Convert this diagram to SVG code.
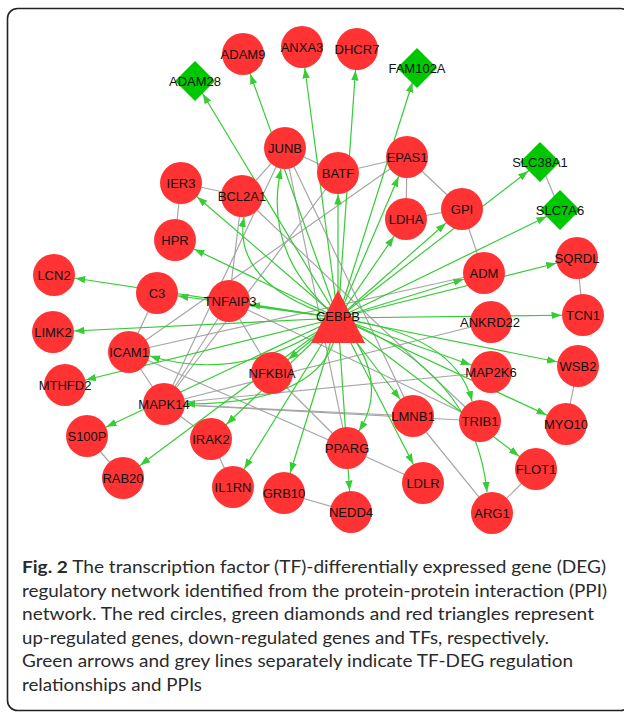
<svg xmlns="http://www.w3.org/2000/svg" width="624" height="713" viewBox="0 0 624 713">
<style>
.g{stroke:#35cc35;stroke-width:1.2;fill:none}
.p{stroke:#a6a6a6;stroke-width:1.2;fill:none}
.c{fill:#ff3333}
.d{fill:#00c800}
.t{font-family:"Liberation Sans",Arial,sans-serif;font-size:13px;fill:#111;text-anchor:middle}
.cap{font-family:Lato,"Open Sans",sans-serif;font-size:17.5px;fill:#2a2a2a}
</style>
<defs>
<marker id="ac" viewBox="0 0 40 10" markerWidth="40" markerHeight="10" refX="31.5" refY="5" orient="auto" markerUnits="userSpaceOnUse"><path d="M0,1.3 L10,5 L0,8.7 z" fill="#35cc35"/></marker>
<marker id="ad" viewBox="0 0 40 10" markerWidth="40" markerHeight="10" refX="25" refY="5" orient="auto" markerUnits="userSpaceOnUse"><path d="M0,1.3 L10,5 L0,8.7 z" fill="#35cc35"/></marker>
<marker id="at" viewBox="0 0 12 10" markerWidth="12" markerHeight="10" refX="10" refY="5" orient="auto" markerUnits="userSpaceOnUse"><path d="M0,1.3 L10,5 L0,8.7 z" fill="#35cc35"/></marker>
</defs>
<rect x="7.5" y="8.5" width="623" height="702" rx="10" fill="none" stroke="#222" stroke-width="1.6"/>
<g id="connectors">
<g id="ppi">
<line class="p" x1="181" y1="183" x2="242" y2="196"/>
<line class="p" x1="181" y1="183" x2="175" y2="240"/>
<line class="p" x1="242" y1="196" x2="285" y2="148"/>
<line class="p" x1="285" y1="148" x2="338" y2="173"/>
<line class="p" x1="338" y1="173" x2="407" y2="157"/>
<line class="p" x1="407" y1="157" x2="406" y2="219"/>
<line class="p" x1="407" y1="157" x2="462" y2="209"/>
<line class="p" x1="406" y1="219" x2="462" y2="209"/>
<line class="p" x1="462" y1="209" x2="484" y2="273"/>
<line class="p" x1="540" y1="162" x2="560" y2="210"/>
<line class="p" x1="577" y1="258" x2="583" y2="315"/>
<line class="p" x1="578" y1="366" x2="566" y2="424"/>
<line class="p" x1="536" y1="469" x2="492" y2="513"/>
<line class="p" x1="413" y1="416" x2="492" y2="513"/>
<line class="p" x1="347" y1="448" x2="423" y2="483"/>
<line class="p" x1="284" y1="493" x2="351" y2="512"/>
<line class="p" x1="211" y1="439" x2="233" y2="487"/>
<line class="p" x1="87" y1="436" x2="123" y2="478"/>
<line class="p" x1="129" y1="352" x2="164" y2="404"/>
<line class="p" x1="157" y1="293" x2="129" y2="352"/>
<line class="p" x1="164" y1="404" x2="211" y2="439"/>
<line class="p" x1="229" y1="301" x2="272" y2="373"/>
<line class="p" x1="164" y1="404" x2="491" y2="372"/>
<line class="p" x1="164" y1="404" x2="480" y2="421"/>
<line class="p" x1="164" y1="404" x2="413" y2="416"/>
<line class="p" x1="129" y1="352" x2="347" y2="448"/>
<line class="p" x1="242" y1="196" x2="229" y2="301"/>
<line class="p" x1="242" y1="196" x2="480" y2="421"/>
<line class="p" x1="285" y1="148" x2="413" y2="416"/>
<line class="p" x1="285" y1="148" x2="347" y2="448"/>
<line class="p" x1="407" y1="157" x2="129" y2="352"/>
<line class="p" x1="338" y1="173" x2="164" y2="404"/>
<line class="p" x1="491" y1="322" x2="164" y2="404"/>
<line class="p" x1="129" y1="352" x2="484" y2="273"/>
<line class="p" x1="229" y1="301" x2="164" y2="404"/>
<line class="p" x1="285" y1="148" x2="164" y2="404"/>
<line class="p" x1="272" y1="373" x2="347" y2="448"/>
<line class="p" x1="229" y1="301" x2="480" y2="421"/>
</g>
<g id="regulation">
<line class="g" x1="338" y1="318" x2="195" y2="81" marker-end="url(#ad)"/>
<line class="g" x1="338" y1="318" x2="243" y2="54" marker-end="url(#ac)"/>
<line class="g" x1="338" y1="318" x2="302" y2="47" marker-end="url(#ac)"/>
<line class="g" x1="338" y1="318" x2="357" y2="49" marker-end="url(#ac)"/>
<line class="g" x1="338" y1="318" x2="417" y2="68" marker-end="url(#ad)"/>
<line class="g" x1="338" y1="318" x2="338" y2="173" marker-end="url(#ac)"/>
<line class="g" x1="338" y1="318" x2="407" y2="157" marker-end="url(#ac)"/>
<line class="g" x1="338" y1="318" x2="406" y2="219" marker-end="url(#ac)"/>
<line class="g" x1="338" y1="318" x2="462" y2="209" marker-end="url(#ac)"/>
<line class="g" x1="338" y1="318" x2="540" y2="162" marker-end="url(#ad)"/>
<line class="g" x1="338" y1="318" x2="560" y2="210" marker-end="url(#ad)"/>
<line class="g" x1="338" y1="318" x2="484" y2="273" marker-end="url(#ac)"/>
<line class="g" x1="338" y1="318" x2="577" y2="258" marker-end="url(#ac)"/>
<line class="g" x1="338" y1="318" x2="583" y2="315" marker-end="url(#ac)"/>
<line class="g" x1="338" y1="318" x2="578" y2="366" marker-end="url(#ac)"/>
<line class="g" x1="338" y1="318" x2="491" y2="372" marker-end="url(#ac)"/>
<line class="g" x1="338" y1="318" x2="566" y2="424" marker-end="url(#ac)"/>
<line class="g" x1="338" y1="318" x2="536" y2="469" marker-end="url(#ac)"/>
<line class="g" x1="338" y1="318" x2="413" y2="416" marker-end="url(#ac)"/>
<line class="g" x1="338" y1="318" x2="423" y2="483" marker-end="url(#ac)"/>
<line class="g" x1="338" y1="318" x2="351" y2="512" marker-end="url(#ac)"/>
<line class="g" x1="338" y1="318" x2="284" y2="493" marker-end="url(#ac)"/>
<line class="g" x1="338" y1="318" x2="233" y2="487" marker-end="url(#ac)"/>
<line class="g" x1="338" y1="318" x2="211" y2="439" marker-end="url(#ac)"/>
<line class="g" x1="338" y1="318" x2="123" y2="478" marker-end="url(#ac)"/>
<line class="g" x1="338" y1="318" x2="272" y2="373" marker-end="url(#ac)"/>
<line class="g" x1="338" y1="318" x2="87" y2="436" marker-end="url(#ac)"/>
<line class="g" x1="338" y1="318" x2="65" y2="385" marker-end="url(#ac)"/>
<line class="g" x1="338" y1="318" x2="53" y2="332" marker-end="url(#ac)"/>
<line class="g" x1="338" y1="318" x2="54" y2="275" marker-end="url(#ac)"/>
<line class="g" x1="338" y1="318" x2="157" y2="293" marker-end="url(#ac)"/>
<line class="g" x1="338" y1="318" x2="229" y2="301" marker-end="url(#ac)"/>
<line class="g" x1="338" y1="318" x2="175" y2="240" marker-end="url(#ac)"/>
<line class="g" x1="338" y1="318" x2="181" y2="183" marker-end="url(#ac)"/>
<path class="g" d="M338,318 Q262,255 281,169" marker-end="url(#at)"/>
<path class="g" d="M338,318 Q232,285 244,217" marker-end="url(#at)"/>
<path class="g" d="M338,318 Q392,378 359,431" marker-end="url(#at)"/>
<path class="g" d="M338,318 Q455,335 472,401" marker-end="url(#at)"/>
<path class="g" d="M338,318 Q475,370 487,492" marker-end="url(#at)"/>
<path class="g" d="M338,318 Q245,385 150,356" marker-end="url(#at)"/>
<path class="g" d="M338,318 Q335,404 185,404" marker-end="url(#at)"/>
</g>
</g>
<g id="n-ADAM9"><circle class="c" cx="243" cy="54" r="21"/><text class="t" x="243" y="58.5">ADAM9</text></g>
<g id="n-ANXA3"><circle class="c" cx="302" cy="47" r="21"/><text class="t" x="302" y="51.5">ANXA3</text></g>
<g id="n-DHCR7"><circle class="c" cx="357" cy="49" r="21"/><text class="t" x="357" y="53.5">DHCR7</text></g>
<g id="n-ADAM28"><path class="d" d="M195,61 L215,81 L195,101 L175,81 z"/><text class="t" x="195" y="85.5">ADAM28</text></g>
<g id="n-FAM102A"><path class="d" d="M417,48 L437,68 L417,88 L397,68 z"/><text class="t" x="417" y="72.5">FAM102A</text></g>
<g id="n-JUNB"><circle class="c" cx="285" cy="148" r="21"/><text class="t" x="285" y="152.5">JUNB</text></g>
<g id="n-BATF"><circle class="c" cx="338" cy="173" r="21"/><text class="t" x="338" y="177.5">BATF</text></g>
<g id="n-EPAS1"><circle class="c" cx="407" cy="157" r="21"/><text class="t" x="407" y="161.5">EPAS1</text></g>
<g id="n-IER3"><circle class="c" cx="181" cy="183" r="21"/><text class="t" x="181" y="187.5">IER3</text></g>
<g id="n-BCL2A1"><circle class="c" cx="242" cy="196" r="21"/><text class="t" x="242" y="200.5">BCL2A1</text></g>
<g id="n-HPR"><circle class="c" cx="175" cy="240" r="21"/><text class="t" x="175" y="244.5">HPR</text></g>
<g id="n-LDHA"><circle class="c" cx="406" cy="219" r="21"/><text class="t" x="406" y="223.5">LDHA</text></g>
<g id="n-GPI"><circle class="c" cx="462" cy="209" r="21"/><text class="t" x="462" y="213.5">GPI</text></g>
<g id="n-SLC38A1"><path class="d" d="M540,142 L560,162 L540,182 L520,162 z"/><text class="t" x="540" y="166.5">SLC38A1</text></g>
<g id="n-SLC7A6"><path class="d" d="M560,190 L580,210 L560,230 L540,210 z"/><text class="t" x="560" y="214.5">SLC7A6</text></g>
<g id="n-ADM"><circle class="c" cx="484" cy="273" r="21"/><text class="t" x="484" y="277.5">ADM</text></g>
<g id="n-SQRDL"><circle class="c" cx="577" cy="258" r="21"/><text class="t" x="577" y="262.5">SQRDL</text></g>
<g id="n-TCN1"><circle class="c" cx="583" cy="315" r="21"/><text class="t" x="583" y="319.5">TCN1</text></g>
<g id="n-ANKRD22"><circle class="c" cx="491" cy="322" r="21"/><text class="t" x="490" y="326.5">ANKRD22</text></g>
<g id="n-WSB2"><circle class="c" cx="578" cy="366" r="21"/><text class="t" x="578" y="370.5">WSB2</text></g>
<g id="n-MAP2K6"><circle class="c" cx="491" cy="372" r="21"/><text class="t" x="491" y="376.5">MAP2K6</text></g>
<g id="n-MYO10"><circle class="c" cx="566" cy="424" r="21"/><text class="t" x="566" y="428.5">MYO10</text></g>
<g id="n-TRIB1"><circle class="c" cx="480" cy="421" r="21"/><text class="t" x="480" y="425.5">TRIB1</text></g>
<g id="n-LMNB1"><circle class="c" cx="413" cy="416" r="21"/><text class="t" x="413" y="420.5">LMNB1</text></g>
<g id="n-FLOT1"><circle class="c" cx="536" cy="469" r="21"/><text class="t" x="536" y="473.5">FLOT1</text></g>
<g id="n-ARG1"><circle class="c" cx="492" cy="513" r="21"/><text class="t" x="492" y="517.5">ARG1</text></g>
<g id="n-LDLR"><circle class="c" cx="423" cy="483" r="21"/><text class="t" x="423" y="487.5">LDLR</text></g>
<g id="n-PPARG"><circle class="c" cx="347" cy="448" r="21"/><text class="t" x="347" y="452.5">PPARG</text></g>
<g id="n-NEDD4"><circle class="c" cx="351" cy="512" r="21"/><text class="t" x="351" y="516.5">NEDD4</text></g>
<g id="n-GRB10"><circle class="c" cx="284" cy="493" r="21"/><text class="t" x="284" y="497.5">GRB10</text></g>
<g id="n-IL1RN"><circle class="c" cx="233" cy="487" r="21"/><text class="t" x="233" y="491.5">IL1RN</text></g>
<g id="n-IRAK2"><circle class="c" cx="211" cy="439" r="21"/><text class="t" x="211" y="443.5">IRAK2</text></g>
<g id="n-RAB20"><circle class="c" cx="123" cy="478" r="21"/><text class="t" x="123" y="482.5">RAB20</text></g>
<g id="n-S100P"><circle class="c" cx="87" cy="436" r="21"/><text class="t" x="87" y="440.5">S100P</text></g>
<g id="n-MAPK14"><circle class="c" cx="164" cy="404" r="21"/><text class="t" x="164" y="408.5">MAPK14</text></g>
<g id="n-MTHFD2"><circle class="c" cx="65" cy="385" r="21"/><text class="t" x="65" y="389.5">MTHFD2</text></g>
<g id="n-NFKBIA"><circle class="c" cx="272" cy="373" r="21"/><text class="t" x="272" y="377.5">NFKBIA</text></g>
<g id="n-ICAM1"><circle class="c" cx="129" cy="352" r="21"/><text class="t" x="129" y="356.5">ICAM1</text></g>
<g id="n-LIMK2"><circle class="c" cx="53" cy="332" r="21"/><text class="t" x="53" y="336.5">LIMK2</text></g>
<g id="n-C3"><circle class="c" cx="157" cy="293" r="21"/><text class="t" x="157" y="297.5">C3</text></g>
<g id="n-LCN2"><circle class="c" cx="54" cy="275" r="21"/><text class="t" x="54" y="279.5">LCN2</text></g>
<g id="n-TNFAIP3"><circle class="c" cx="229" cy="301" r="21"/><text class="t" x="230" y="305.5">TNFAIP3</text></g>
<g id="n-CEBPB"><path class="c" d="M338,290 L365,343 L311,343 z"/><text class="t" x="338" y="320.5">CEBPB</text></g>
<g id="caption">
<text class="cap" x="22" y="573" textLength="584" lengthAdjust="spacingAndGlyphs"><tspan font-weight="bold">Fig. 2</tspan> The transcription factor (TF)-differentially expressed gene (DEG)</text>
<text class="cap" x="22" y="596.6" textLength="585" lengthAdjust="spacingAndGlyphs">regulatory network identified from the protein-protein interaction (PPI)</text>
<text class="cap" x="22" y="620.2" textLength="572" lengthAdjust="spacingAndGlyphs">network. The red circles, green diamonds and red triangles represent</text>
<text class="cap" x="22" y="643.8" textLength="527" lengthAdjust="spacingAndGlyphs">up-regulated genes, down-regulated genes and TFs, respectively.</text>
<text class="cap" x="22" y="667.4" textLength="551" lengthAdjust="spacingAndGlyphs">Green arrows and grey lines separately indicate TF-DEG regulation</text>
<text class="cap" x="22" y="691" textLength="180" lengthAdjust="spacingAndGlyphs">relationships and PPIs</text>
</g>
</svg>
